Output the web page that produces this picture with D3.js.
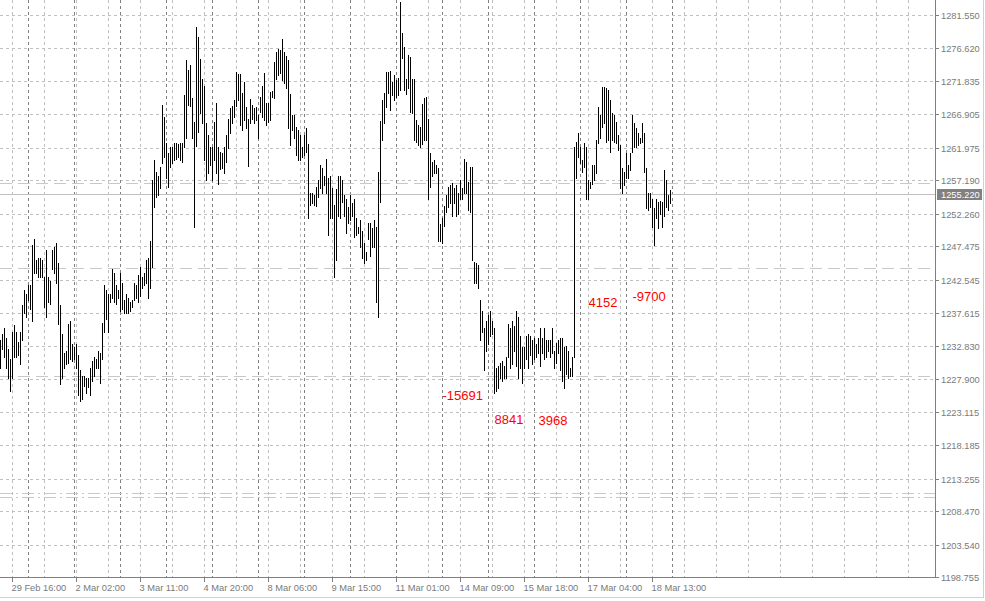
<!DOCTYPE html>
<html lang="en">
<head>
<meta charset="UTF-8">
<title>XAUUSD H1</title>
<script src="https://d3js.org/d3.v7.min.js"></script>
<style>
  body { margin: 0; background: #ffffff; }
  svg { display: block; }
  .lbl { font-family: "Liberation Sans", Arial, sans-serif; font-size: 9.3px; fill: #7a7a7a; }
  .note { font-family: "Liberation Sans", Arial, sans-serif; font-size: 13px; fill: #ff0000; }
</style>
</head>
<body>
<svg width="985" height="601"></svg>
<script>
// hourly bars (high / low)
const highs = [
  1233.7,1234.5,1235.4,1233.9,1232.4,1230.9,1234.8,1235.9,1234.8,1233.4,1234.8,1238.9,1241.1,1240.4,1241.7,1241.7,
  1247.6,1248.5,1245.5,1245.8,1245.7,1245.4,1242.9,1246.9,1242.9,1242.4,1246.9,1247.3,1247.9,1245.0,1238.8,1234.6,
  1231.7,1232.1,1236.1,1236.5,1233.1,1232.6,1233.1,1231.4,1229.2,1228.4,1228.4,1228.1,1228.0,1229.5,1230.6,1231.1,
  1230.9,1232.1,1231.7,1236.2,1241.7,1241.0,1240.5,1240.5,1244.1,1243.5,1241.7,1241.0,1243.5,1242.0,1239.5,1240.5,
  1239.8,1239.2,1239.5,1242.1,1241.7,1243.2,1244.4,1242.9,1243.5,1245.4,1245.8,1248.3,1257.2,1260.2,1258.4,1257.9,
  1259.1,1268.3,1266.5,1262.7,1261.2,1262.1,1262.1,1262.7,1262.7,1262.5,1262.7,1262.7,1269.7,1274.9,1273.4,1274.2,
  1269.3,1265.8,1279.8,1278.3,1275.1,1272.1,1271.1,1265.6,1263.8,1262.1,1262.1,1265.8,1268.6,1262.1,1261.3,1261.2,
  1262.1,1263.8,1266.3,1267.8,1268.1,1269.0,1273.1,1272.8,1272.8,1270.0,1271.7,1268.0,1266.3,1269.2,1268.3,1267.8,
  1268.0,1266.8,1269.4,1271.1,1273.0,1268.6,1268.6,1270.2,1270.3,1274.6,1276.1,1276.5,1276.4,1278.0,1276.1,1275.5,
  1274.9,1269.9,1266.8,1266.8,1265.0,1264.6,1263.8,1262.1,1263.8,1264.9,1262.5,1255.4,1255.4,1255.0,1256.2,1257.3,
  1259.4,1259.0,1257.9,1260.4,1257.5,1257.8,1256.0,1253.6,1255.9,1257.9,1257.8,1257.2,1255.1,1254.4,1253.2,1255.0,
  1253.8,1254.4,1251.7,1250.3,1251.3,1249.8,1248.0,1246.6,1250.9,1250.9,1250.1,1251.3,1250.3,1258.4,1265.9,1269.0,
  1270.0,1273.1,1273.1,1273.3,1271.7,1272.7,1272.0,1272.3,1283.5,1278.9,1276.8,1272.1,1275.6,1275.3,1272.1,1272.1,
  1266.1,1265.3,1265.0,1268.4,1269.3,1269.4,1266.3,1261.2,1259.9,1260.2,1259.4,1259.0,1250.7,1251.6,1253.4,1255.0,
  1256.2,1256.5,1256.8,1256.0,1256.5,1255.3,1257.2,1256.0,1260.4,1259.9,1256.9,1259.1,1259.1,1245.1,1245.0,1244.7,
  1239.5,1238.0,1235.5,1236.5,1237.3,1238.0,1236.5,1235.4,1229.5,1229.9,1230.3,1230.6,1229.9,1231.1,1236.1,1235.5,
  1236.5,1235.8,1238.0,1237.0,1234.3,1232.6,1232.6,1234.3,1234.6,1234.3,1233.6,1234.0,1233.1,1234.0,1235.4,1233.9,
  1235.4,1233.6,1233.6,1233.6,1235.5,1232.1,1233.3,1233.6,1234.0,1234.0,1232.6,1232.8,1232.1,1229.6,1231.1,1262.1,
  1262.8,1264.1,1262.1,1260.2,1262.7,1262.1,1257.2,1256.9,1259.4,1259.4,1263.1,1268.0,1266.8,1270.9,1270.9,1270.8,
  1270.5,1269.0,1267.1,1266.8,1265.8,1263.8,1262.4,1259.0,1258.4,1261.2,1259.4,1261.2,1266.8,1265.6,1264.9,1264.1,
  1263.5,1265.6,1264.1,1259.0,1255.4,1255.3,1254.5,1253.1,1254.5,1254.0,1254.2,1254.0,1258.7,1257.2,1255.0,1255.7
];
const lows = [
  1229.5,1232.3,1231.1,1229.6,1228.1,1226.1,1228.1,1231.1,1231.2,1231.4,1230.2,1233.6,1237.7,1237.1,1239.6,1238.3,
  1236.5,1243.6,1243.5,1242.9,1242.9,1242.9,1238.5,1237.0,1239.2,1239.0,1244.2,1243.5,1242.1,1236.1,1227.2,1228.1,
  1229.5,1230.2,1230.3,1230.9,1230.6,1230.9,1229.6,1225.5,1224.7,1225.0,1226.9,1225.9,1226.7,1225.5,1227.7,1228.4,
  1229.5,1229.6,1227.4,1230.9,1234.8,1236.8,1234.8,1239.2,1239.8,1239.2,1239.0,1239.8,1238.0,1238.3,1237.6,1237.7,
  1237.7,1238.0,1238.5,1239.5,1239.8,1239.2,1240.2,1241.3,1241.7,1242.1,1239.8,1241.4,1244.4,1253.2,1254.7,1255.0,
  1256.0,1259.7,1260.6,1257.6,1256.2,1259.1,1259.7,1260.2,1260.4,1260.7,1260.2,1259.9,1262.1,1263.5,1268.3,1268.1,
  1263.5,1250.3,1262.2,1264.3,1267.1,1265.6,1260.2,1257.2,1258.2,1259.4,1257.2,1260.2,1258.2,1256.7,1258.8,1259.0,
  1258.2,1259.9,1261.9,1264.1,1265.6,1266.5,1268.1,1269.0,1265.3,1264.6,1266.1,1264.9,1259.3,1265.6,1266.3,1265.6,
  1266.1,1263.4,1267.2,1266.5,1266.1,1265.3,1265.8,1266.1,1269.4,1269.3,1272.1,1272.7,1273.0,1272.0,1271.5,1270.8,
  1264.9,1262.4,1264.6,1263.5,1260.9,1260.2,1260.2,1260.6,1260.9,1261.3,1251.6,1253.6,1253.8,1253.6,1253.4,1254.7,
  1256.0,1255.3,1256.5,1255.4,1249.1,1251.6,1251.6,1242.9,1245.4,1252.0,1251.7,1254.0,1252.0,1249.5,1250.9,1251.3,
  1252.0,1248.8,1249.1,1249.4,1247.3,1245.8,1245.0,1245.4,1248.6,1246.1,1247.3,1247.3,1239.2,1237.0,1254.0,1263.1,
  1265.6,1268.0,1270.0,1267.5,1269.7,1269.0,1269.4,1269.7,1270.5,1275.2,1270.5,1269.9,1270.8,1267.2,1267.1,1263.1,
  1262.8,1262.4,1262.1,1262.5,1263.2,1263.1,1254.5,1256.2,1257.9,1258.2,1258.2,1248.3,1248.3,1247.9,1250.4,1252.5,
  1253.2,1253.8,1252.0,1253.8,1252.0,1252.3,1254.5,1254.5,1255.3,1255.3,1252.8,1252.5,1245.4,1242.1,1242.0,1241.3,
  1233.6,1234.8,1229.2,1232.1,1233.1,1234.3,1234.6,1225.8,1226.2,1226.6,1228.1,1227.7,1228.1,1228.1,1231.1,1229.6,
  1230.2,1232.1,1229.9,1228.1,1229.5,1227.4,1229.5,1230.9,1229.6,1231.4,1230.2,1230.9,1231.1,1231.7,1229.9,1231.8,
  1230.9,1231.1,1232.1,1231.1,1231.7,1229.6,1230.3,1231.8,1229.2,1227.7,1226.6,1228.7,1228.1,1228.4,1228.4,1231.1,
  1257.5,1260.6,1259.7,1258.4,1259.1,1254.5,1254.4,1256.0,1256.7,1257.2,1258.2,1262.7,1263.4,1265.0,1265.6,1262.8,
  1263.1,1261.3,1263.1,1262.8,1262.7,1261.6,1256.0,1255.4,1256.5,1257.6,1257.6,1258.7,1261.3,1262.1,1262.1,1262.4,
  1262.7,1262.8,1258.4,1253.1,1252.8,1253.2,1250.3,1247.6,1251.7,1250.1,1252.3,1250.3,1252.0,1253.2,1252.8,1253.8
];

// price scale labels
const yTicks = [1281.550, 1276.620, 1271.835, 1266.905, 1261.975, 1257.190, 1252.260, 1247.475,
  1242.545, 1237.615, 1232.830, 1227.900, 1223.115, 1218.185, 1213.255, 1208.470, 1203.540, 1198.755];
const yMin = 1198.755, yMax = 1281.550;

// time scale labels (bar index where each label sits)
const xTickBars = [6, 38, 70, 102, 134, 166, 198, 230, 262, 294, 326];
const xTickLabels = ["29 Feb 16:00", "2 Mar 02:00", "3 Mar 11:00", "4 Mar 20:00", "8 Mar 06:00",
  "9 Mar 15:00", "11 Mar 01:00", "14 Mar 09:00", "15 Mar 18:00", "17 Mar 04:00", "18 Mar 13:00"];

// horizontal level lines
const levels = [1256.8, 1244.3, 1228.4];
const doubleLevels = [1211.1, 1210.5];
const lastPrice = 1255.220;

// red text objects
const noteText = ["-15691", "8841", "3968", "4152", "-9700"];
const noteBar = [221, 247, 269, 294, 316];
const notePrice = [1224.8, 1221.3, 1221.2, 1238.5, 1239.4];

const plotRight = 935, plotBottom = 577;

const svg = d3.select("svg");
const n = highs.length;

const x = d3.scaleLinear().domain([0, n - 1]).range([0.5, 0.5 + 2 * (n - 1)]);
const y = d3.scaleLinear().domain([yMin, yMax]).range([plotBottom, 15]);
const py = v => Math.round(y(v)) + 0.5;

// outer frame
svg.append("line").attr("x1", 983.5).attr("x2", 983.5).attr("y1", 0).attr("y2", 598)
  .attr("stroke", "#d4d0c8");
svg.append("line").attr("x1", 0).attr("x2", 984).attr("y1", 597.5).attr("y2", 597.5)
  .attr("stroke", "#d4d0c8");

const grid = svg.append("g").attr("shape-rendering", "crispEdges");

// vertical grid every 16 bars, carried on into the empty area
const gridBars = d3.range(6, 460, 16).filter(i => x(i) < plotRight);
grid.selectAll(".vg").data(gridBars).enter().append("line")
  .attr("x1", d => x(d)).attr("x2", d => x(d))
  .attr("y1", 0).attr("y2", plotBottom)
  .attr("stroke", "#c0c0c0").attr("stroke-dasharray", "3,3");

// horizontal grid
grid.selectAll(".hg").data(yTicks).enter().append("line")
  .attr("x1", 0).attr("x2", plotRight)
  .attr("y1", d => py(d)).attr("y2", d => py(d))
  .attr("stroke", "#c0c0c0").attr("stroke-dasharray", "3,3");

// day separators
const sepBars = d3.range(14, n + 1, 23);
grid.selectAll(".sep").data(sepBars).enter().append("line")
  .attr("x1", d => x(d)).attr("x2", d => x(d))
  .attr("y1", 0).attr("y2", plotBottom)
  .attr("stroke", "#808080").attr("stroke-dasharray", "3,3");

// level lines
grid.selectAll(".lvl").data(levels).enter().append("line")
  .attr("x1", 0).attr("x2", plotRight)
  .attr("y1", d => py(d)).attr("y2", d => py(d))
  .attr("stroke", "#c8c8c8").attr("stroke-dasharray", "12,6");
grid.selectAll(".dlvl").data(doubleLevels).enter().append("line")
  .attr("x1", 0).attr("x2", plotRight)
  .attr("y1", d => py(d)).attr("y2", d => py(d))
  .attr("stroke", "#c8c8c8").attr("stroke-dasharray", "12,4,2,4");

// last price line
grid.append("line")
  .attr("x1", 0).attr("x2", plotRight)
  .attr("y1", py(lastPrice)).attr("y2", py(lastPrice))
  .attr("stroke", "#c0c0c0");

// bars
svg.append("g").attr("shape-rendering", "crispEdges")
  .selectAll("line").data(d3.range(n)).enter().append("line")
  .attr("x1", i => x(i)).attr("x2", i => x(i))
  .attr("y1", i => Math.round(y(highs[i]))).attr("y2", i => Math.round(y(lows[i])) + 1)
  .attr("stroke", "#000").attr("stroke-width", 1);

// axes
const ax = svg.append("g").attr("shape-rendering", "crispEdges");
ax.append("line").attr("x1", plotRight + 0.5).attr("x2", plotRight + 0.5)
  .attr("y1", 0).attr("y2", plotBottom + 1).attr("stroke", "#808080");
ax.append("line").attr("x1", 0).attr("x2", plotRight + 1)
  .attr("y1", plotBottom + 0.5).attr("y2", plotBottom + 0.5).attr("stroke", "#808080");

ax.selectAll(".yt").data(yTicks).enter().append("line")
  .attr("x1", plotRight).attr("x2", plotRight + 4)
  .attr("y1", d => py(d)).attr("y2", d => py(d)).attr("stroke", "#808080");
svg.selectAll(".ylab").data(yTicks).enter().append("text")
  .attr("class", "lbl")
  .attr("x", plotRight + 6).attr("y", d => py(d) + 3.5)
  .text(d => d.toFixed(3));

ax.selectAll(".xt").data(xTickBars).enter().append("line")
  .attr("x1", d => x(d)).attr("x2", d => x(d))
  .attr("y1", plotBottom).attr("y2", plotBottom + 5).attr("stroke", "#808080");
svg.selectAll(".xlab").data(xTickBars).enter().append("text")
  .attr("class", "lbl")
  .attr("x", d => x(d) - 1).attr("y", plotBottom + 14)
  .text((d, i) => xTickLabels[i]);

// last price box
svg.append("rect").attr("x", 937).attr("y", py(lastPrice) - 5.5).attr("width", 45).attr("height", 11)
  .attr("fill", "#808080");
svg.append("text").attr("class", "lbl").style("fill", "#ffffff")
  .attr("x", plotRight + 6).attr("y", py(lastPrice) + 3.5)
  .text(lastPrice.toFixed(3));

// red notes
svg.selectAll(".note").data(noteText).enter().append("text")
  .attr("class", "note")
  .attr("x", (d, i) => x(noteBar[i]))
  .attr("y", (d, i) => y(notePrice[i]))
  .text(d => d);
</script>
</body>
</html>
